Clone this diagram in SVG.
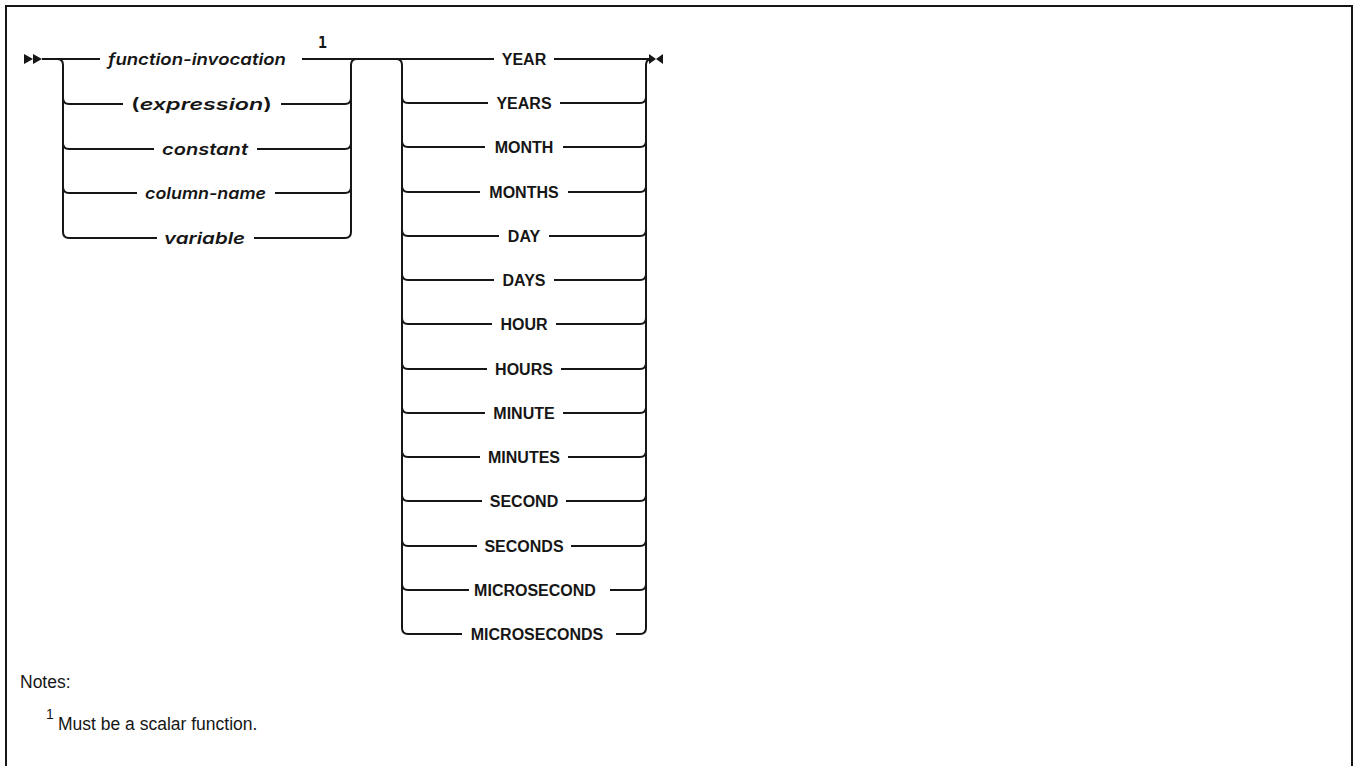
<svg xmlns="http://www.w3.org/2000/svg" width="1354" height="766" viewBox="0 0 1354 766">
<style>
.ln{fill:none;stroke:#161616;stroke-width:2}
.kw{font-family:"Liberation Sans",Arial,sans-serif;font-weight:bold;font-size:16px;fill:#161616;text-anchor:middle}
.var{font-family:Inter,"DejaVu Sans",sans-serif;font-weight:600;font-style:italic;font-size:16.5px;fill:#161616}
.note{font-family:"Liberation Sans",Arial,sans-serif;font-size:17.5px;fill:#161616}
.ar{fill:#161616}
</style>
<rect x="6" y="6" width="1346" height="800" fill="#fff" stroke="#161616" stroke-width="2"/>
<g id="connectors">
<polygon class="ar" points="24,54 33,59 24,64"/>
<polygon class="ar" points="33,54 42,59 33,64"/>
<path class="ln" d="M42 59 H100 M302 59 H494 M554 59 H649"/>
<path class="ln" d="M57 59 Q63 59 63 65 V232 Q63 238 69 238 M63 98 Q63 104 69 104 M63 143 Q63 149 69 149 M63 187 Q63 193 69 193"/>
<path class="ln" d="M357 59 Q351 59 351 65 V232 Q351 238 345 238 M345 104 Q351 104 351 98 M345 149 Q351 149 351 143 M345 193 Q351 193 351 187"/>
<path class="ln" d="M69 104 H123 M281 104 H345 M69 149 H154 M257 149 H345 M69 193 H137 M275 193 H345 M69 238 H157 M254 238 H345"/>
<path class="ln" d="M396 59 Q402 59 402 65 V628 Q402 634 408 634 M402 97 Q402 103 408 103 M402 141 Q402 147 408 147 M402 186 Q402 192 408 192 M402 230 Q402 236 408 236 M402 274 Q402 280 408 280 M402 318 Q402 324 408 324 M402 363 Q402 369 408 369 M402 407 Q402 413 408 413 M402 451 Q402 457 408 457 M402 495 Q402 501 408 501 M402 540 Q402 546 408 546 M402 584 Q402 590 408 590"/>
<path class="ln" d="M652 59 Q646 59 646 65 V628 Q646 634 640 634 M640 103 Q646 103 646 97 M640 147 Q646 147 646 141 M640 192 Q646 192 646 186 M640 236 Q646 236 646 230 M640 280 Q646 280 646 274 M640 324 Q646 324 646 318 M640 369 Q646 369 646 363 M640 413 Q646 413 646 407 M640 457 Q646 457 646 451 M640 501 Q646 501 646 495 M640 546 Q646 546 646 540 M640 590 Q646 590 646 584"/>
<path class="ln" d="M408 103 H488 M560 103 H640 M408 147 H485 M563 147 H640 M408 192 H480 M568 192 H640 M408 236 H499 M549 236 H640 M408 280 H494 M554 280 H640 M408 324 H492 M556 324 H640 M408 369 H487 M561 369 H640 M408 413 H485 M563 413 H640 M408 457 H480 M568 457 H640 M408 501 H482 M566 501 H640 M408 546 H477 M571 546 H640 M408 590 H469 M610 590 H640 M408 634 H462 M616 634 H640"/>
<polygon class="ar" points="649,54 656,59 649,64"/>
<polygon class="ar" points="663,54 656,59 663,64"/>
</g>
<g id="n-function-invocation"><text class="var" x="108" y="65" textLength="178" lengthAdjust="spacingAndGlyphs">function-invocation</text><text x="318" y="48" style="font-family:'DejaVu Sans Mono',monospace;font-weight:bold;font-size:15px;fill:#161616">1</text></g>
<g id="n-expression"><text class="var" x="131" y="110" textLength="141" lengthAdjust="spacingAndGlyphs"><tspan font-style="normal">(</tspan>expression<tspan font-style="normal">)</tspan></text></g>
<g id="n-constant"><text class="var" x="162" y="155" textLength="86" lengthAdjust="spacingAndGlyphs">constant</text></g>
<g id="n-column-name"><text class="var" x="145" y="199" textLength="121" lengthAdjust="spacingAndGlyphs">column-name</text></g>
<g id="n-variable"><text class="var" x="164" y="244" textLength="81" lengthAdjust="spacingAndGlyphs">variable</text></g>
<g id="n-YEAR"><text class="kw" x="524" y="65">YEAR</text></g>
<g id="n-YEARS"><text class="kw" x="524" y="109">YEARS</text></g>
<g id="n-MONTH"><text class="kw" x="524" y="153">MONTH</text></g>
<g id="n-MONTHS"><text class="kw" x="524" y="198">MONTHS</text></g>
<g id="n-DAY"><text class="kw" x="524" y="242">DAY</text></g>
<g id="n-DAYS"><text class="kw" x="524" y="286">DAYS</text></g>
<g id="n-HOUR"><text class="kw" x="524" y="330">HOUR</text></g>
<g id="n-HOURS"><text class="kw" x="524" y="375">HOURS</text></g>
<g id="n-MINUTE"><text class="kw" x="524" y="419">MINUTE</text></g>
<g id="n-MINUTES"><text class="kw" x="524" y="463">MINUTES</text></g>
<g id="n-SECOND"><text class="kw" x="524" y="507">SECOND</text></g>
<g id="n-SECONDS"><text class="kw" x="524" y="552">SECONDS</text></g>
<g id="n-MICROSECOND"><text class="kw" x="535" y="596">MICROSECOND</text></g>
<g id="n-MICROSECONDS"><text class="kw" x="537" y="640">MICROSECONDS</text></g>
<g id="notes">
<text class="note" x="20" y="688">Notes:</text>
<text class="note" x="46" y="719" style="font-size:14px">1</text>
<text class="note" x="58" y="730">Must be a scalar function.</text>
</g>
</svg>
